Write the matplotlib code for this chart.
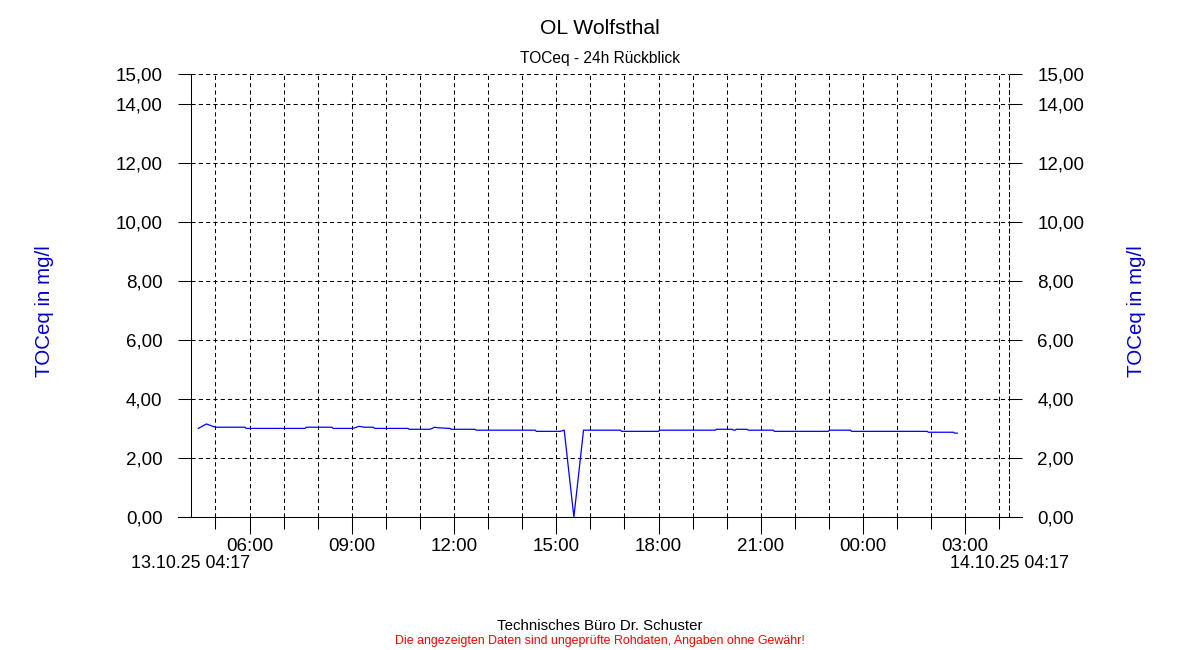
import matplotlib
matplotlib.use('Agg')
import matplotlib.pyplot as plt
import matplotlib.dates as mdates
import pandas as pd

plt.rcParams['font.family'] = ['Liberation Sans', 'DejaVu Sans']

TITLE = 'OL Wolfsthal'
SUBTITLE = 'TOCeq - 24h Rückblick'
YLABEL = 'TOCeq in mg/l'
START = '2025-10-13 04:17'
END = '2025-10-14 04:17'

# TOC values (mg/l)
times = [
    '2025-10-13 04:30', '2025-10-13 04:44', '2025-10-13 05:00', '2025-10-13 05:52',
    '2025-10-13 05:54', '2025-10-13 07:38', '2025-10-13 07:40', '2025-10-13 08:25',
    '2025-10-13 08:27', '2025-10-13 09:02', '2025-10-13 09:13', '2025-10-13 09:22',
    '2025-10-13 09:38', '2025-10-13 09:40', '2025-10-13 10:39', '2025-10-13 10:41',
    '2025-10-13 11:18', '2025-10-13 11:26', '2025-10-13 11:32', '2025-10-13 11:53',
    '2025-10-13 11:55', '2025-10-13 12:37', '2025-10-13 12:39', '2025-10-13 14:23',
    '2025-10-13 14:25', '2025-10-13 15:07', '2025-10-13 15:14', '2025-10-13 15:31',
    '2025-10-13 15:48', '2025-10-13 16:53', '2025-10-13 16:55', '2025-10-13 18:00',
    '2025-10-13 18:02', '2025-10-13 19:40', '2025-10-13 19:42', '2025-10-13 20:10',
    '2025-10-13 20:12', '2025-10-13 20:15', '2025-10-13 20:17', '2025-10-13 20:36',
    '2025-10-13 20:38', '2025-10-13 21:22', '2025-10-13 21:24', '2025-10-13 22:59',
    '2025-10-13 23:01', '2025-10-13 23:38', '2025-10-13 23:40', '2025-10-14 01:53',
    '2025-10-14 01:55', '2025-10-14 02:39', '2025-10-14 02:41', '2025-10-14 02:46',
]
toc = [
    3.00, 3.15, 3.04, 3.04,
    3.00, 3.00, 3.04, 3.04,
    3.00, 3.00, 3.07, 3.04,
    3.04, 3.00, 3.00, 2.97,
    2.97, 3.04, 3.02, 3.00,
    2.97, 2.97, 2.94, 2.94,
    2.90, 2.90, 2.94, 0.00,
    2.94, 2.94, 2.90, 2.90,
    2.94, 2.94, 2.97, 2.97,
    2.94, 2.94, 2.97, 2.97,
    2.94, 2.94, 2.90, 2.90,
    2.94, 2.94, 2.90, 2.90,
    2.87, 2.87, 2.84, 2.84,
]
yticks = [0, 2, 4, 6, 8, 10, 12, 14, 15]
ytick_labels = ['%.2f' % v for v in yticks]
ytick_labels = [s.replace('.', ',') for s in ytick_labels]

W, H = 1200, 650
fig = plt.figure(figsize=(12, 6.5), dpi=100)
ax = fig.add_axes([191 / W, 1 - 517 / H, 818 / W, 443 / H])

t = pd.to_datetime(times)
ax.plot(t, toc, color='#0000FF', lw=0.9, zorder=3)

ax.set_xlim(pd.Timestamp(START), pd.Timestamp(END))
ax.set_ylim(0, 15)
ax.set_yticks(yticks)
ax.set_yticklabels(ytick_labels)

ax.xaxis.set_major_locator(mdates.HourLocator(byhour=range(0, 24, 3)))
ax.xaxis.set_minor_locator(mdates.HourLocator())
ax.xaxis.set_major_formatter(mdates.DateFormatter('%H:%M'))

dash = (0, (4, 3))
ax.grid(axis='x', which='both', color='black', lw=0.75, linestyle=dash)
ax.grid(axis='y', which='major', color='black', lw=0.75, linestyle=dash)

ax.tick_params(axis='y', which='major', direction='out', length=9.5, width=0.75,
               left=True, right=True, labelleft=True, labelright=True,
               pad=11, labelsize=13.5, colors='black')
ax.tick_params(axis='x', which='major', direction='out', length=12, width=0.75,
               pad=3, labelsize=13.5)
ax.tick_params(axis='x', which='minor', direction='out', length=8.3, width=0.75)

for s in ['top', 'bottom']:
    ax.spines[s].set_visible(False)
ax.spines['left'].set_linewidth(0.75)
ax.spines['right'].set_linewidth(0.75)
ax.spines['right'].set_linestyle(dash)

# bottom axis line reaches past both y axes
ext = 13 / 818
ax.plot([-ext, 1 + ext], [0, 0], transform=ax.transAxes, color='black',
        lw=0.75, clip_on=False, zorder=4)

fig.text(600 / W, 1 - 29 / H, TITLE, ha='center', va='center', fontsize=15.2)
fig.text(600 / W, 1 - 59 / H, SUBTITLE, ha='center', va='center', fontsize=11.2)

ycol = '#0000CC'
fig.text(45 / W, 1 - 311 / H, YLABEL, rotation=90, ha='center', va='center',
         fontsize=14.8, color=ycol)
fig.text(1136 / W, 1 - 311 / H, YLABEL, rotation=90, ha='center', va='center',
         fontsize=14.8, color=ycol)

fig.text(191 / W, 1 - 564 / H, '13.10.25 04:17', ha='center', va='center', fontsize=12.9)
fig.text(1009 / W, 1 - 564 / H, '14.10.25 04:17', ha='center', va='center', fontsize=12.9)

fig.text(600 / W, 1 - 626 / H, 'Technisches Büro Dr. Schuster', ha='center',
         va='center', fontsize=10.8)
fig.text(600 / W, 1 - 641 / H,
         'Die angezeigten Daten sind ungeprüfte Rohdaten, Angaben ohne Gewähr!',
         ha='center', va='center', fontsize=8.9, color='#FF0000')

fig.savefig('out.png', dpi=100, facecolor='white')
